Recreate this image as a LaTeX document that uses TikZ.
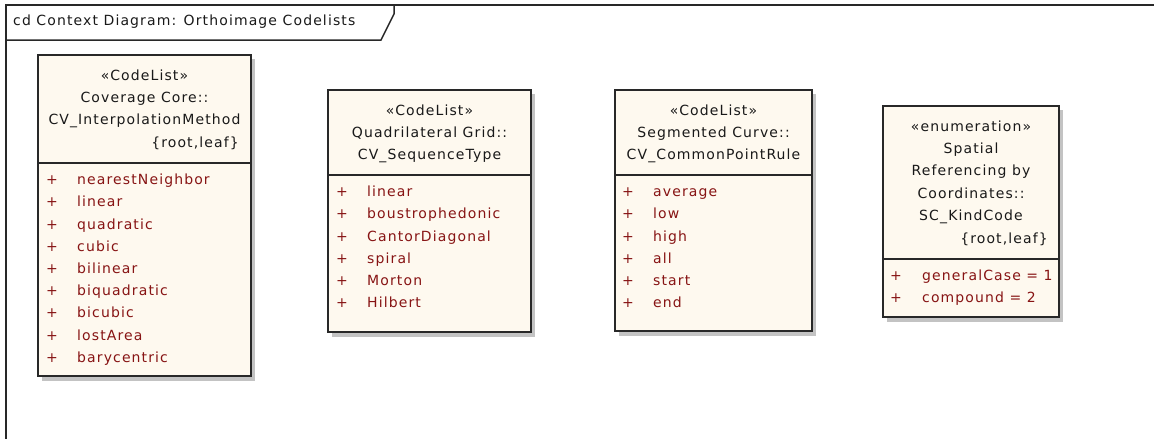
\documentclass[tikz,border=0pt]{standalone}
\usepackage{fontspec}
\setmainfont{DejaVu Sans}[LetterSpace=8]
\usetikzlibrary{calc}
\definecolor{boxfill}{RGB}{254,249,239}
\definecolor{attrred}{RGB}{135,20,20}
\definecolor{shade}{RGB}{195,195,195}
\definecolor{edge}{RGB}{40,40,40}
\tikzset{
  umlbox/.style={draw=edge, line width=1.5pt, fill=boxfill},
  shadowbox/.style={fill=shade, draw=none},
  divider/.style={draw=edge, line width=1.2pt},
  hdr/.style={inner sep=0pt, anchor=mid, text=black!90, font=\fontsize{14}{16}\selectfont},
  tag/.style={hdr, anchor=mid east},
  attr/.style={inner sep=0pt, anchor=mid west, text=attrred, font=\fontsize{14}{16}\selectfont},
}
\begin{document}
\begin{tikzpicture}[x=1pt, y=-1pt]
\useasboundingbox (0,0) rectangle (1154,439);
% frame and its tab
\coordinate (FB) at (6,439);
\coordinate (FO) at (6,5);
\coordinate (FR) at (1154,5);
\draw [edge, line width=2pt] (FB) -- (FO) -- (FR);
\draw [edge, line width=1.5pt] (6,40) -- (381,40) -- (394,14) -- (394,5);
\node [hdr, anchor=mid west] (title) at (13,23) {cd Context Diagram: Orthoimage Codelists};
% CV_InterpolationMethod
\coordinate (b1nw) at (38,55);
\coordinate (b1se) at (251,376);
\fill [shadowbox] ($(b1nw)+(4,4)$) rectangle ($(b1se)+(4,5)$);
\draw [umlbox] (b1nw) rectangle (b1se);
\draw [divider] (38,163) -- (251,163);
\node [hdr] (b1st) at (144.5,78) {«CodeList»};
\node [hdr] (b1pk) at (144.5,100) {Coverage Core::};
\node [hdr] (b1nm) at (144.5,122) {CV\_InterpolationMethod};
\node [tag] (b1tg) at (239,145) {\{root,leaf\}};
\foreach \lit [count=\i from 0] in {nearestNeighbor, linear, quadratic, cubic, bilinear, biquadratic, bicubic, lostArea, barycentric} {
  \node [attr] (b1p\i) at (46,182+22.2*\i) {+};
  \node [attr] (b1a\i) at (77,182+22.2*\i) {\lit};
}
% CV_SequenceType
\coordinate (b2nw) at (328,90);
\coordinate (b2se) at (531,332);
\fill [shadowbox] ($(b2nw)+(4,4)$) rectangle ($(b2se)+(4,5)$);
\draw [umlbox] (b2nw) rectangle (b2se);
\draw [divider] (328,175) -- (531,175);
\node [hdr] (b2st) at (429.5,113) {«CodeList»};
\node [hdr] (b2pk) at (429.5,135) {Quadrilateral Grid::};
\node [hdr] (b2nm) at (429.5,157) {CV\_SequenceType};
\foreach \lit [count=\i from 0] in {linear, boustrophedonic, CantorDiagonal, spiral, Morton, Hilbert} {
  \node [attr] (b2p\i) at (336,194+22.2*\i) {+};
  \node [attr] (b2a\i) at (367,194+22.2*\i) {\lit};
}
% CV_CommonPointRule
\coordinate (b3nw) at (615,90);
\coordinate (b3se) at (812,331);
\fill [shadowbox] ($(b3nw)+(4,4)$) rectangle ($(b3se)+(4,5)$);
\draw [umlbox] (b3nw) rectangle (b3se);
\draw [divider] (615,175) -- (812,175);
\node [hdr] (b3st) at (713.5,113) {«CodeList»};
\node [hdr] (b3pk) at (713.5,135) {Segmented Curve::};
\node [hdr] (b3nm) at (713.5,157) {CV\_CommonPointRule};
\foreach \lit [count=\i from 0] in {average, low, high, all, start, end} {
  \node [attr] (b3p\i) at (622,194+22.2*\i) {+};
  \node [attr] (b3a\i) at (653,194+22.2*\i) {\lit};
}
% SC_KindCode
\coordinate (b4nw) at (883,106);
\coordinate (b4se) at (1059,317);
\fill [shadowbox] ($(b4nw)+(4,4)$) rectangle ($(b4se)+(4,5)$);
\draw [umlbox] (b4nw) rectangle (b4se);
\draw [divider] (883,259) -- (1059,259);
\node [hdr] (b4st) at (971,129) {«enumeration»};
\node [hdr] (b4pk) at (971,151) {Spatial};
\node [hdr] (b4pl) at (971,173) {Referencing by};
\node [hdr] (b4pm) at (971,196) {Coordinates::};
\node [hdr] (b4nm) at (971,218) {SC\_KindCode};
\node [tag] (b4tg) at (1048,241) {\{root,leaf\}};
\node [attr] (b4p0) at (890,278) {+};
\node [attr] (b4a0) at (922,278) {generalCase = 1};
\node [attr] (b4p1) at (890,300) {+};
\node [attr] (b4a1) at (922,300) {compound = 2};
\end{tikzpicture}
\end{document}
